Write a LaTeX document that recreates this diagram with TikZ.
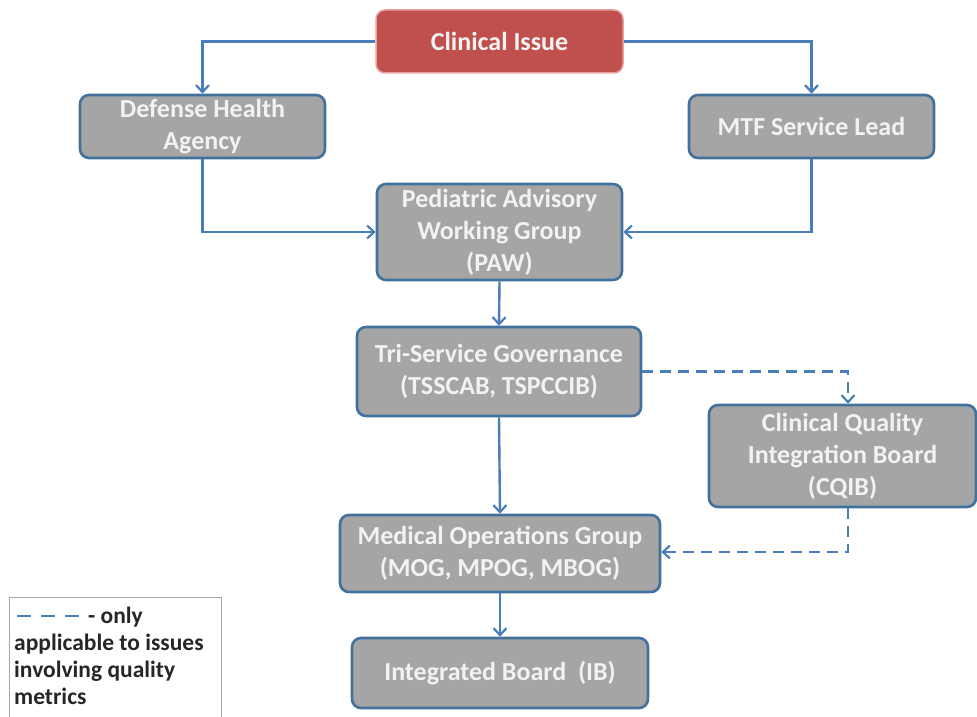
\documentclass[tikz,border=0pt]{standalone}
\usepackage{fontspec}
\setmainfont{Carlito}
\usetikzlibrary{arrows.meta}
\definecolor{boxfill}{HTML}{A5A5A5}
\definecolor{boxline}{HTML}{41719C}
\definecolor{redfill}{HTML}{C0504D}
\definecolor{redline}{HTML}{E8A09E}
\definecolor{arr}{HTML}{4A7EBB}
\definecolor{txt}{HTML}{F2F2F2}
\begin{document}
\begin{tikzpicture}[x=1pt,y=-1pt,
  gbox/.style={draw=boxline, line width=2.6pt, fill=boxfill, rounded corners=9pt,
    text=txt, font=\fontsize{26}{32}\selectfont\bfseries, align=center, inner sep=0pt},
  rbox/.style={gbox, fill=redfill, draw=redline, line width=1.5pt},
  conn/.style={draw=arr, line width=2.4pt, -{Straight Barb[length=7pt,width=13pt,line width=2.2pt]}},
  dconn/.style={conn, dash pattern=on 11pt off 7pt}
]
\useasboundingbox (0,0) rectangle (977,717);
\node[rbox, minimum width=247pt, minimum height=63pt] (ci) at (499.5,41.5) {Clinical Issue};
\node[gbox, minimum width=245pt, minimum height=63pt] (dha) at (202.5,126.5) {Defense Health\\Agency};
\node[gbox, minimum width=245pt, minimum height=63pt] (mtf) at (811.5,126.5) {MTF Service Lead};
\node[gbox, minimum width=245pt, minimum height=96pt] (paw) at (499.5,232) {Pediatric Advisory\\Working Group\\(PAW)};
\node[gbox, minimum width=284pt, minimum height=89pt] (tri) at (499,371.5) {Tri-Service Governance\\(TSSCAB, TSPCCIB)};
\node[gbox, minimum width=267pt, minimum height=102pt] (cqib) at (842.5,456) {Clinical Quality\\Integration Board\\(CQIB)};
\node[gbox, minimum width=320pt, minimum height=77pt] (mog) at (500,553.5) {Medical Operations Group\\(MOG, MPOG, MBOG)};
\node[gbox, minimum width=296pt, minimum height=70pt] (ib) at (500,673) {Integrated Board\ \ (IB)};

\draw[conn] (ci.west) -| (dha.north);
\draw[conn] (ci.east) -| (mtf.north);
\draw[conn] (dha.south) |- (paw.west);
\draw[conn] (mtf.south) |- (paw.east);
\draw[conn] (paw.south) -- (tri.north);
\draw[conn] (tri.south) -- (mog.north);
\draw[conn] (mog.south) -- (ib.north);
\coordinate (c1) at (848,371.5);
\coordinate (c2) at (848,552);
\draw[dconn] (tri.east) -- (c1) -- (c1|-cqib.north);
\draw[dconn] (c2|-cqib.south) -- (c2) -- (mog.east|-c2);

\node[draw=gray!70, line width=1.2pt, minimum width=212pt, minimum height=130pt, anchor=north west] (leg) at (9,597) {};
\coordinate (l1) at (17,616);
\coordinate (l2) at (80,616);
\draw[arr, line width=2.6pt, dash pattern=on 14pt off 10pt] (l1) -- (l2);
\node[anchor=north west, inner sep=0pt, align=left, text=black!85,
  font=\fontsize{23.5}{27}\selectfont\bfseries] (legtxt) at (14,607)
  {\hspace{74pt}- only\\applicable to issues\\involving quality\\metrics};
\end{tikzpicture}
\end{document}
